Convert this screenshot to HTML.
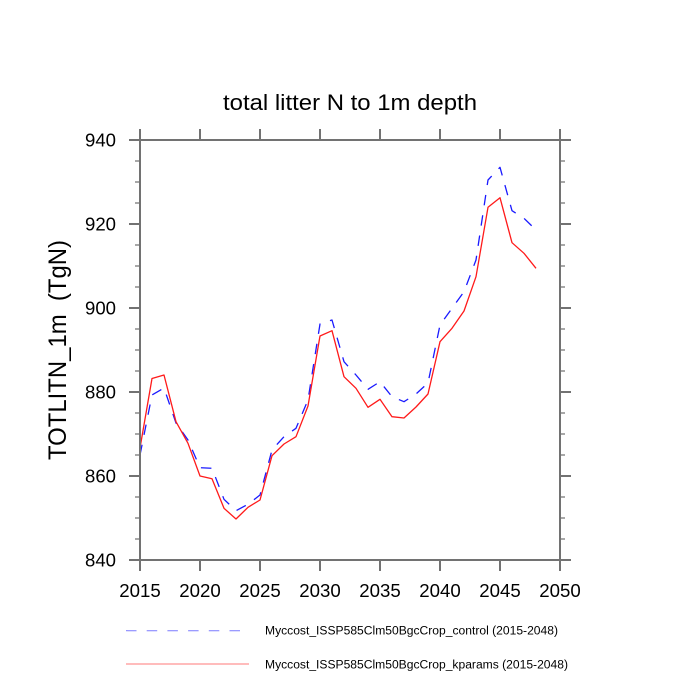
<!DOCTYPE html>
<html>
<head>
<meta charset="utf-8">
<style>
  html, body { margin: 0; padding: 0; background: #ffffff; }
  svg { display: block; }
  text { font-family: "Liberation Sans", "DejaVu Sans", sans-serif; fill: #000; }
</style>
</head>
<body>
<svg width="700" height="700" viewBox="0 0 700 700" xmlns="http://www.w3.org/2000/svg">
  <rect x="0" y="0" width="700" height="700" fill="#ffffff"/>

  <!-- Title -->
  <text x="223" y="110" font-size="22" textLength="254" lengthAdjust="spacingAndGlyphs">total litter N to 1m depth</text>

  <!-- Y axis title -->
  <text transform="translate(66,350) rotate(-90)" text-anchor="middle" font-size="25" textLength="220" lengthAdjust="spacingAndGlyphs">TOTLITN_1m&#160;&#160;(TgN)</text>

  <!-- Minor y ticks (every 5 units) -->
  <g stroke="#8a8a8a" stroke-width="1.5">
    <line x1="135" y1="161" x2="140" y2="161"/><line x1="560" y1="161" x2="565" y2="161"/>
    <line x1="135" y1="182" x2="140" y2="182"/><line x1="560" y1="182" x2="565" y2="182"/>
    <line x1="135" y1="203" x2="140" y2="203"/><line x1="560" y1="203" x2="565" y2="203"/>
    <line x1="135" y1="245" x2="140" y2="245"/><line x1="560" y1="245" x2="565" y2="245"/>
    <line x1="135" y1="266" x2="140" y2="266"/><line x1="560" y1="266" x2="565" y2="266"/>
    <line x1="135" y1="287" x2="140" y2="287"/><line x1="560" y1="287" x2="565" y2="287"/>
    <line x1="135" y1="329" x2="140" y2="329"/><line x1="560" y1="329" x2="565" y2="329"/>
    <line x1="135" y1="350" x2="140" y2="350"/><line x1="560" y1="350" x2="565" y2="350"/>
    <line x1="135" y1="371" x2="140" y2="371"/><line x1="560" y1="371" x2="565" y2="371"/>
    <line x1="135" y1="413" x2="140" y2="413"/><line x1="560" y1="413" x2="565" y2="413"/>
    <line x1="135" y1="434" x2="140" y2="434"/><line x1="560" y1="434" x2="565" y2="434"/>
    <line x1="135" y1="455" x2="140" y2="455"/><line x1="560" y1="455" x2="565" y2="455"/>
    <line x1="135" y1="497" x2="140" y2="497"/><line x1="560" y1="497" x2="565" y2="497"/>
    <line x1="135" y1="518" x2="140" y2="518"/><line x1="560" y1="518" x2="565" y2="518"/>
    <line x1="135" y1="539" x2="140" y2="539"/><line x1="560" y1="539" x2="565" y2="539"/>
  </g>

  <!-- Major ticks -->
  <g stroke="#727272" stroke-width="2">
    <line x1="129" y1="140" x2="140" y2="140"/><line x1="560" y1="140" x2="571" y2="140"/>
    <line x1="129" y1="224" x2="140" y2="224"/><line x1="560" y1="224" x2="571" y2="224"/>
    <line x1="129" y1="308" x2="140" y2="308"/><line x1="560" y1="308" x2="571" y2="308"/>
    <line x1="129" y1="392" x2="140" y2="392"/><line x1="560" y1="392" x2="571" y2="392"/>
    <line x1="129" y1="476" x2="140" y2="476"/><line x1="560" y1="476" x2="571" y2="476"/>
    <line x1="129" y1="560" x2="140" y2="560"/><line x1="560" y1="560" x2="571" y2="560"/>
    <line x1="140" y1="129" x2="140" y2="140"/><line x1="140" y1="560" x2="140" y2="571"/>
    <line x1="200" y1="129" x2="200" y2="140"/><line x1="200" y1="560" x2="200" y2="571"/>
    <line x1="260" y1="129" x2="260" y2="140"/><line x1="260" y1="560" x2="260" y2="571"/>
    <line x1="320" y1="129" x2="320" y2="140"/><line x1="320" y1="560" x2="320" y2="571"/>
    <line x1="380" y1="129" x2="380" y2="140"/><line x1="380" y1="560" x2="380" y2="571"/>
    <line x1="440" y1="129" x2="440" y2="140"/><line x1="440" y1="560" x2="440" y2="571"/>
    <line x1="500" y1="129" x2="500" y2="140"/><line x1="500" y1="560" x2="500" y2="571"/>
    <line x1="560" y1="129" x2="560" y2="140"/><line x1="560" y1="560" x2="560" y2="571"/>
  </g>

  <!-- Data: control (blue dashed) -->
  <polyline fill="none" stroke="#1a1aff" stroke-width="1.3" stroke-dasharray="10.5 10" stroke-linejoin="round"
    points="140,455 152,395 164,388 176,423 188,440 200,467.7 212,468.3 224,499.3 236,510.7 248,504.3 260,495 272,450 284,436.7 296,428.3 308,400 320,324 332,320 344,361.7 356,375 368,389.3 380,381.7 392,396.7 404,401.7 416,394 428,383 440,325 452,308.3 464,291.7 476,260 488,180 500,167.3 512,210.7 524,218.3 536,230"/>

  <!-- Data: kparams (red solid) -->
  <polyline fill="none" stroke="#ff1a1a" stroke-width="1.3" stroke-linejoin="round"
    points="140,448 152,378.5 164,375 176,421.7 188,443.3 200,476 212,478.7 224,508.3 236,519 248,507.3 260,500 272,455.7 284,444 296,436.7 308,406 320,336 332,330.7 344,376.7 356,388.3 368,407.3 380,399.3 392,416.7 404,418 416,407 428,394 440,341.7 452,328.3 464,311 476,276.7 488,207.3 500,197.7 512,242.7 524,253.3 536,268.3"/>

  <!-- Plot frame -->
  <rect x="140" y="140" width="420" height="420" fill="none" stroke="#727272" stroke-width="2"/>

  <!-- Y tick labels -->
  <g font-size="18" text-anchor="end">
    <text x="116" y="146.5" textLength="31" lengthAdjust="spacingAndGlyphs">940</text>
    <text x="116" y="230.5" textLength="31" lengthAdjust="spacingAndGlyphs">920</text>
    <text x="116" y="314.5" textLength="31" lengthAdjust="spacingAndGlyphs">900</text>
    <text x="116" y="398.5" textLength="31" lengthAdjust="spacingAndGlyphs">880</text>
    <text x="116" y="482.5" textLength="31" lengthAdjust="spacingAndGlyphs">860</text>
    <text x="116" y="566.5" textLength="31" lengthAdjust="spacingAndGlyphs">840</text>
  </g>

  <!-- X tick labels -->
  <g font-size="18" text-anchor="middle">
    <text x="140" y="597" textLength="41.5" lengthAdjust="spacingAndGlyphs">2015</text>
    <text x="200" y="597" textLength="41.5" lengthAdjust="spacingAndGlyphs">2020</text>
    <text x="260" y="597" textLength="41.5" lengthAdjust="spacingAndGlyphs">2025</text>
    <text x="320" y="597" textLength="41.5" lengthAdjust="spacingAndGlyphs">2030</text>
    <text x="380" y="597" textLength="41.5" lengthAdjust="spacingAndGlyphs">2035</text>
    <text x="440" y="597" textLength="41.5" lengthAdjust="spacingAndGlyphs">2040</text>
    <text x="500" y="597" textLength="41.5" lengthAdjust="spacingAndGlyphs">2045</text>
    <text x="560" y="597" textLength="41.5" lengthAdjust="spacingAndGlyphs">2050</text>
  </g>

  <!-- Legend -->
  <line x1="126" y1="630.7" x2="244" y2="630.7" stroke="#7a7aff" stroke-width="1" stroke-dasharray="10.5 10.2"/>
  <line x1="126" y1="664" x2="249" y2="664" stroke="#ff7a7a" stroke-width="1"/>
  <text x="265" y="634.3" font-size="11.5" textLength="293" lengthAdjust="spacingAndGlyphs">Myccost_ISSP585Clm50BgcCrop_control (2015-2048)</text>
  <text x="265" y="668.3" font-size="11.5" textLength="303" lengthAdjust="spacingAndGlyphs">Myccost_ISSP585Clm50BgcCrop_kparams (2015-2048)</text>
</svg>
</body>
</html>
